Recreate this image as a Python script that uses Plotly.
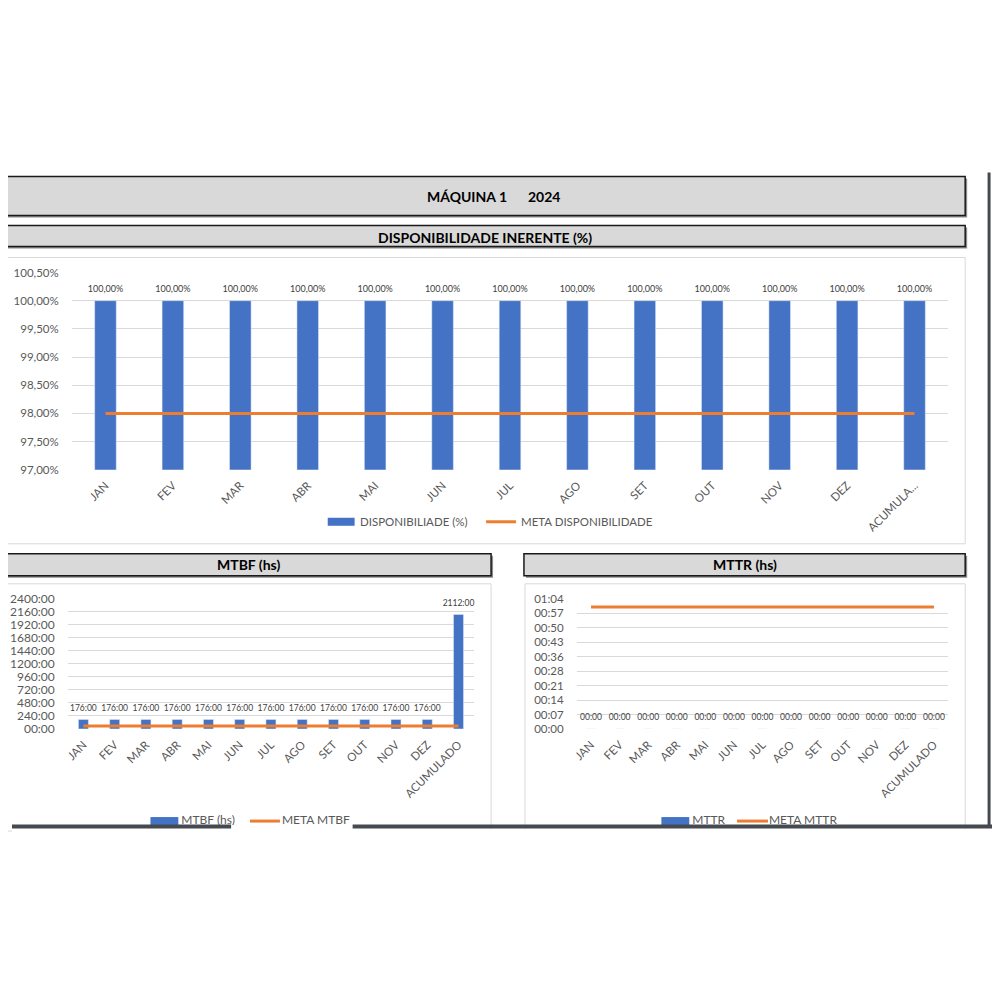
import plotly.graph_objects as go

meses = ["JAN", "FEV", "MAR", "ABR", "MAI", "JUN", "JUL", "AGO", "SET", "OUT", "NOV", "DEZ", "ACUMULADO"]
rotulos_disp = ["JAN", "FEV", "MAR", "ABR", "MAI", "JUN", "JUL", "AGO", "SET", "OUT", "NOV", "DEZ", "ACUMULA..."]

disponibilidade = [1.0, 1.0, 1.0, 1.0, 1.0, 1.0, 1.0, 1.0, 1.0, 1.0, 1.0, 1.0, 1.0]
meta_disp = [0.98, 0.98, 0.98, 0.98, 0.98, 0.98, 0.98, 0.98, 0.98, 0.98, 0.98, 0.98, 0.98]

mtbf_h = [176, 176, 176, 176, 176, 176, 176, 176, 176, 176, 176, 176, 2112]
meta_mtbf_h = [55, 55, 55, 55, 55, 55, 55, 55, 55, 55, 55, 55, 55]

mttr_min = [0, 0, 0, 0, 0, 0, 0, 0, 0, 0, 0, 0, 0]
meta_mttr_min = [60, 60, 60, 60, 60, 60, 60, 60, 60, 60, 60, 60, 60]

disp_ticks = [0.97, 0.975, 0.98, 0.985, 0.99, 0.995, 1.0, 1.005]
mtbf_ticks = [0, 240, 480, 720, 960, 1200, 1440, 1680, 1920, 2160, 2400]
mttr_ticks = [0, 64 / 9, 128 / 9, 192 / 9, 256 / 9, 320 / 9, 384 / 9, 448 / 9, 512 / 9, 64]

AZUL = "#4472C4"
LARANJA = "#ED7D31"
CINZA_TXT = "#595959"
FONTE = "Lato"


def fmt_horas(h):
    return f"{int(h):02d}:00"


def fmt_min(m):
    m = int(round(m))
    return f"{m // 60:02d}:{m % 60:02d}"


# posicao na tela (px) -> paper; compensa o deslocamento da pagina
def px(x):
    return (x - 8) / 1000


def py(y):
    return 1 - (y / 0.984 - 16) / 1000


fig = go.Figure()


def barras(valores, textos, tam, eixo_x, eixo_y):
    fig.add_trace(go.Bar(
        x=meses, y=valores, marker_color=AZUL, width=0.32,
        xaxis=eixo_x, yaxis=eixo_y, showlegend=False,
    ))
    # rotulos de dados acima das barras
    fig.add_trace(go.Scatter(
        x=meses, y=valores, mode="markers+text", text=textos,
        marker=dict(size=9, opacity=0), textposition="top center",
        textfont=dict(size=tam, color="#404040", family=FONTE),
        cliponaxis=False, xaxis=eixo_x, yaxis=eixo_y, showlegend=False, hoverinfo="skip",
    ))


def meta(valores, eixo_x, eixo_y):
    fig.add_trace(go.Scatter(
        x=meses, y=valores, mode="lines", line=dict(color=LARANJA, width=3),
        xaxis=eixo_x, yaxis=eixo_y, showlegend=False,
    ))


barras(disponibilidade, [f"{v * 100:.2f}%".replace(".", ",") for v in disponibilidade], 9, "x", "y")
meta(meta_disp, "x", "y")
barras(mtbf_h, [fmt_horas(v) for v in mtbf_h], 8.5, "x2", "y2")
meta(meta_mtbf_h, "x2", "y2")
barras(mttr_min, [fmt_min(v) for v in mttr_min], 8.5, "x3", "y3")
meta(meta_mttr_min, "x3", "y3")

# --- legendas cortadas pela moldura (faixa recortada) ---
fig.add_trace(go.Scatter(
    x=[178, 279, 691, 768], y=[819.5, 819.5, 819.5, 819.5], mode="text",
    text=["MTBF (hs)", "META MTBF", "MTTR", "META MTTR"],
    textposition="middle right", textfont=dict(size=12, color=CINZA_TXT, family=FONTE),
    cliponaxis=True, xaxis="x4", yaxis="y4", showlegend=False, hoverinfo="skip",
))

eixo_x = dict(type="category", showgrid=False, zeroline=False, showline=False,
              range=[-0.5, 12.5], autorange=False,
              tickangle=-45, tickfont=dict(size=11.5, color=CINZA_TXT, family=FONTE),
              ticks="", ticklabelstandoff=6, fixedrange=True)
eixo_y = dict(showgrid=True, gridcolor="#d9d9d9", gridwidth=1, zeroline=False, showline=False,
              ticks="", ticklabelstandoff=12, fixedrange=True)

fig.update_layout(
    width=1000, height=1000,
    margin=dict(l=0, r=0, t=0, b=0),
    paper_bgcolor="white", plot_bgcolor="rgba(0,0,0,0)",
    separators=",.",
    font=dict(family=FONTE, color=CINZA_TXT),
    xaxis=dict(eixo_x, domain=[px(68), px(948)], anchor="y",
               tickvals=meses, ticktext=rotulos_disp),
    yaxis=dict(eixo_y, domain=[py(469), py(272)], anchor="x", range=[0.97, 1.005],
               tickvals=disp_ticks, tickformat=".2%",
               tickfont=dict(size=11.5, color=CINZA_TXT, family=FONTE)),
    xaxis2=dict(eixo_x, domain=[px(64), px(472)], anchor="y2"),
    yaxis2=dict(eixo_y, domain=[py(728), py(598)], anchor="x2", range=[0, 2400],
                tickvals=mtbf_ticks, ticktext=[fmt_horas(v) for v in mtbf_ticks],
                tickfont=dict(size=12, color=CINZA_TXT, family=FONTE)),
    xaxis3=dict(eixo_x, domain=[px(575), px(948)], anchor="y3"),
    yaxis3=dict(eixo_y, domain=[py(728), py(598)], anchor="x3", range=[0, 64],
                tickvals=mttr_ticks, ticktext=[fmt_min(v) for v in mttr_ticks],
                tickfont=dict(size=11.5, color=CINZA_TXT, family=FONTE)),
    xaxis4=dict(domain=[px(8), px(1000)], range=[8, 1000], visible=False, fixedrange=True, anchor="y4"),
    yaxis4=dict(domain=[py(824), py(800)], range=[824, 800], visible=False, fixedrange=True, anchor="x4"),
)

shapes = []


def caixa_titulo(x0, y0, x1, y1):
    # sombra + caixa cinza com borda escura
    shapes.append(dict(type="rect", xref="paper", yref="paper", layer="below",
                       x0=px(x0 + 2), x1=px(x1 + 2), y0=py(y0 + 2), y1=py(y1 + 2),
                       fillcolor="#8c8c8c", line=dict(width=0)))
    shapes.append(dict(type="rect", xref="paper", yref="paper", layer="below",
                       x0=px(x0), x1=px(x1), y0=py(y0), y1=py(y1),
                       fillcolor="#d9d9d9", line=dict(color="#1a1a1a", width=1.5)))


def caixa_grafico(x0, y0, x1, y1):
    shapes.append(dict(type="rect", xref="paper", yref="paper", layer="below",
                       x0=px(x0), x1=px(x1), y0=py(y0), y1=py(y1),
                       fillcolor="white", line=dict(color="#d9d9d9", width=1)))


caixa_titulo(0, 176, 965, 215)
caixa_titulo(0, 225, 965, 246)
caixa_titulo(0, 553, 489, 575)
caixa_titulo(522, 553, 965, 575)

caixa_grafico(0, 257, 965, 543)
caixa_grafico(0, 583, 489, 830)
caixa_grafico(523, 583, 965, 830)

# legenda do grafico 1
shapes.append(dict(type="rect", xref="paper", yref="paper", layer="above",
                   x0=px(325), x1=px(352), y0=py(525), y1=py(517),
                   fillcolor=AZUL, line=dict(width=0)))
shapes.append(dict(type="line", xref="paper", yref="paper", layer="above",
                   x0=px(484), x1=px(514), y0=py(521), y1=py(521),
                   line=dict(color=LARANJA, width=3)))

# marcadores das legendas cortadas
for x0, x1 in [(147, 175), (660, 688)]:
    shapes.append(dict(type="rect", xref="x4", yref="y4", layer="above",
                       x0=x0, x1=x1, y0=816, y1=830, fillcolor=AZUL, line=dict(width=0)))
for x0, x1 in [(247, 277), (736, 767)]:
    shapes.append(dict(type="line", xref="x4", yref="y4", layer="above",
                       x0=x0, x1=x1, y0=820, y1=820, line=dict(color=LARANJA, width=3)))

# moldura escura da planilha
for x0, x1 in [(8, 228), (350, 992)]:
    shapes.append(dict(type="line", xref="paper", yref="paper", layer="above",
                       x0=px(x0), x1=px(x1), y0=py(825.5), y1=py(825.5),
                       line=dict(color="#454950", width=4)))
shapes.append(dict(type="line", xref="paper", yref="paper", layer="above",
                   x0=px(989), x1=px(989), y0=py(172), y1=py(827),
                   line=dict(color="#454950", width=3)))
shapes.append(dict(type="rect", xref="paper", yref="paper", layer="above",
                   x0=0, x1=1, y0=0, y1=py(828),
                   fillcolor="white", line=dict(width=0)))

fig.update_layout(shapes=shapes)

anot = [
    dict(text="<b>MÁQUINA 1</b>", x=px(465), y=py(196)),
    dict(text="<b>2024</b>", x=px(542), y=py(196)),
    dict(text="<b>DISPONIBILIDADE INERENTE (%)</b>", x=px(483), y=py(237)),
    dict(text="<b>MTBF (hs)</b>", x=px(245), y=py(564)),
    dict(text="<b>MTTR (hs)</b>", x=px(744), y=py(564)),
]
for a in anot:
    fig.add_annotation(xref="paper", yref="paper", showarrow=False,
                       xanchor="center", yanchor="middle",
                       font=dict(size=14, color="black", family=FONTE), **a)

fig.add_annotation(text="DISPONIBILIADE (%)", xref="paper", yref="paper", showarrow=False,
                   x=px(355), y=py(521), xanchor="left", yanchor="middle",
                   font=dict(size=11.5, color=CINZA_TXT, family=FONTE))
fig.add_annotation(text="META DISPONIBILIDADE", xref="paper", yref="paper", showarrow=False,
                   x=px(517), y=py(521), xanchor="left", yanchor="middle",
                   font=dict(size=11.5, color=CINZA_TXT, family=FONTE))

fig.write_html("out.html")
